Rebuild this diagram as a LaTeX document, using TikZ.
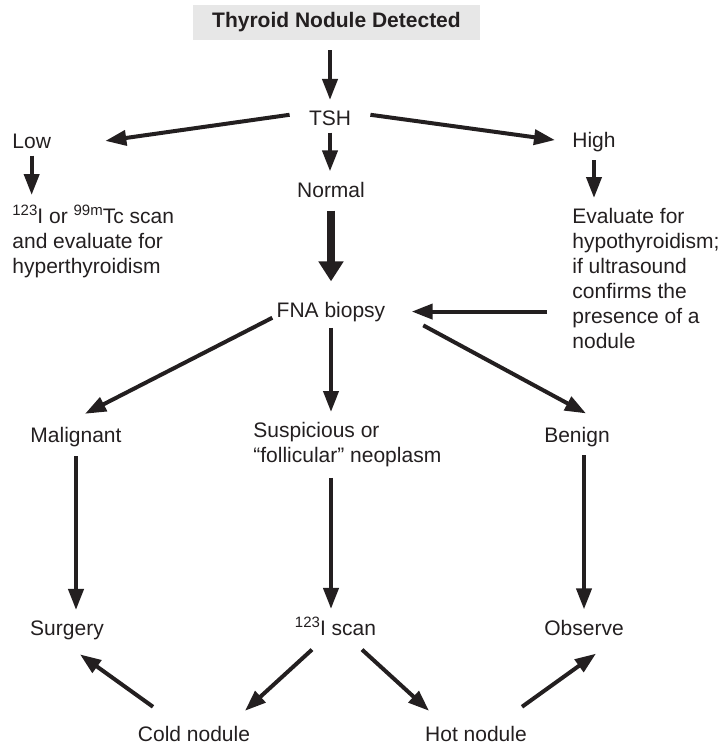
\documentclass[tikz,border=0pt]{standalone}
\usepackage{fontspec}
\setmainfont{Liberation Sans}
\usetikzlibrary{arrows.meta}
\definecolor{ink}{RGB}{35,31,32}
\definecolor{titlebg}{RGB}{231,231,231}
\newcommand{\iso}[1]{{\fontsize{7.5}{9}\selectfont\raisebox{3.6pt}{#1}}}

\begin{document}
\begin{tikzpicture}[x=0.5pt, y=-0.5pt,
    txt/.style={inner sep=0pt, text=ink, font=\fontsize{10.5}{12.5}\selectfont},
    titlebox/.style={txt, fill=titlebg, minimum width=143.5pt, minimum height=17.5pt,
                     font=\fontsize{10.5}{12.5}\selectfont\bfseries},
    arr/.style={-{Triangle[length=10.5pt,width=7.5pt]}, line width=2pt, ink},
    bigarr/.style={-{Triangle[length=10pt,width=12pt]}, line width=4pt, ink}
]
\useasboundingbox (0,0) rectangle (723,745);

\node[titlebox] (title) at (336.5,22.5) {Thyroid Nodule Detected};
\node[txt, anchor=base] (tsh) at (330,125) {TSH};
\node[txt, anchor=base west] (low) at (12,148) {Low};
\node[txt, anchor=base west] (high) at (572,147) {High};
\node[txt, anchor=base] (normal) at (331,197) {Normal};
\node[txt, anchor=north west, align=left] (lowtxt) at (12,205)
    {\iso{123}I or \iso{99m}Tc scan\\and evaluate for\\hyperthyroidism};
\node[txt, anchor=north west, align=left] (hightxt) at (572,208)
    {Evaluate for\\hypothyroidism;\\if ultrasound\\confirms the\\presence of a\\nodule};
\node[txt, anchor=base] (fna) at (331,317) {FNA biopsy};
\node[txt, anchor=base] (malignant) at (76,442) {Malignant};
\node[txt, anchor=north west, align=left] (susp) at (253,422)
    {Suspicious or\\``follicular'' neoplasm};
\node[txt, anchor=base] (benign) at (577,442) {Benign};
\node[txt, anchor=base] (surgery) at (67,635) {Surgery};
\node[txt, anchor=base] (scan) at (335.5,635) {\iso{123}I scan};
\node[txt, anchor=base] (observe) at (584,635) {Observe};
\node[txt, anchor=base] (cold) at (194,741) {Cold nodule};
\node[txt, anchor=base] (hot) at (476,741) {Hot nodule};

\draw[arr, shorten <=5pt, shorten >=5pt] (tsh |- title.south) -- (tsh);
\draw[arr] ([xshift=-9.5pt,yshift=1.5pt]tsh.west) -- ([xshift=27pt]low.east);
\draw[arr] ([xshift=9.5pt,yshift=1.5pt]tsh.east) -- ([xshift=-8.5pt,yshift=0.75pt]high.west);
\draw[arr, shorten <=3.5pt, shorten >=5pt] (tsh) -- (tsh |- normal.north);
\draw[arr, shorten <=3.5pt, shorten >=5pt] (low) -- (low |- lowtxt.north);
\draw[arr, shorten <=4.3pt, shorten >=5pt] (high) -- (high |- hightxt.north);
\draw[bigarr, shorten <=6.5pt, shorten >=10pt] (normal) -- (normal |- fna.north);
\draw[arr, shorten <=12.5pt, shorten >=13pt] (hightxt.west |- fna) -- (fna);

\draw[arr] ([xshift=-2pt,yshift=2pt]fna.south west) -- ([xshift=4.5pt,yshift=6.3pt]malignant.north);
\draw[arr, shorten <=3pt, shorten >=5pt] (fna) -- (fna |- susp.north);
\draw[arr] ([xshift=18.8pt,yshift=-1.8pt]fna.south east) -- ([xshift=4.5pt,yshift=6.5pt]benign.north);

\draw[arr, shorten <=4.8pt, shorten >=5pt] (malignant) -- (malignant |- surgery.north);
\draw[arr, shorten <=5.3pt, shorten >=4pt] (fna |- susp.south) -- (fna |- scan.north);
\draw[arr, shorten <=4.3pt, shorten >=5pt] (observe |- benign.south) -- (observe);

\draw[arr] ([xshift=-20.5pt,yshift=9.3pt]cold.north) -- ([xshift=6.5pt,yshift=-7.3pt]surgery.south);
\draw[arr] ([xshift=-11.75pt,yshift=-7pt]scan.south) -- ([xshift=25.5pt,yshift=7.3pt]cold.north);
\draw[arr] ([xshift=13.25pt,yshift=-7pt]scan.south) -- ([xshift=-23.5pt,yshift=7.3pt]hot.north);
\draw[arr] ([xshift=23pt,yshift=9.3pt]hot.north) -- ([xshift=6pt,yshift=-9pt]observe.south);
\end{tikzpicture}
\end{document}
